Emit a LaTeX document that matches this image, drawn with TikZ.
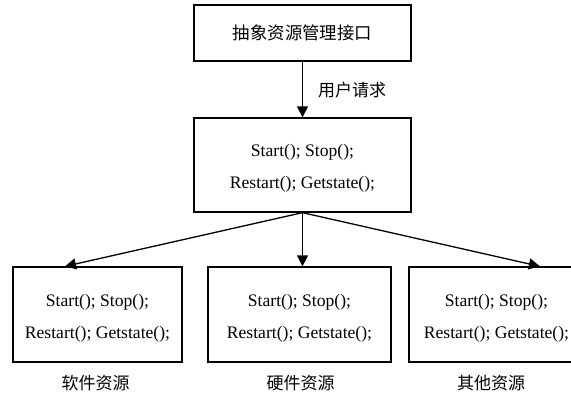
\documentclass[tikz,border=0pt]{standalone}
\usepackage{fontspec}
\setmainfont{Liberation Serif}
\newfontfamily\cjk{Noto Sans CJK SC}
\usetikzlibrary{arrows.meta}
\newcommand{\liftstrut}{\rule{0pt}{19pt}}
\begin{document}
\begin{tikzpicture}[x=1pt,y=-1pt,
  every node/.style={font=\fontsize{17.6}{32}\selectfont, inner sep=0pt},
  boxnode/.style={draw, line width=1.3pt, align=center},
  conn/.style={line width=1.3pt, -{Triangle[length=11pt,width=11pt]}},
  lbl/.style={font=\cjk\fontsize{17}{20}\selectfont}]
\useasboundingbox (0,0) rectangle (571,397);
\clip (0,0) rectangle (571,397);
\node[boxnode, minimum width=217pt, minimum height=56pt, font=\cjk\fontsize{17.4}{20}\selectfont] (top) at (302.5,33) {抽象资源管理接口};
\node[boxnode, minimum width=217pt, minimum height=94pt] (mid) at (302.5,165) {\liftstrut Start(); Stop();\\Restart(); Getstate();};
\node[boxnode, minimum width=169pt, minimum height=95pt] (b1) at (97.5,314.5) {\liftstrut Start(); Stop();\\Restart(); Getstate();};
\node[boxnode, minimum width=183pt, minimum height=95pt] (b2) at (299.5,314.5) {\liftstrut Start(); Stop();\\Restart(); Getstate();};
\node[boxnode, minimum width=175pt, minimum height=95pt] (b3) at (496.5,314.5) {\liftstrut Start(); Stop();\\Restart(); Getstate();};
\node[lbl, anchor=west] (req) at (318,90) {用户请求};
\node[lbl] (l1) at (95.5,383) {软件资源};
\node[lbl] (l2) at (300.5,383) {硬件资源};
\node[lbl] (l3) at (491,383) {其他资源};
\draw[conn] (top.south) -- (mid.north);
\draw[conn] (mid.south) -- (b1.124.4);
\draw[conn] (mid.south) -- (mid.south |- b2.north);
\draw[conn] (mid.south) -- (b3.48.2);
\end{tikzpicture}
\end{document}
